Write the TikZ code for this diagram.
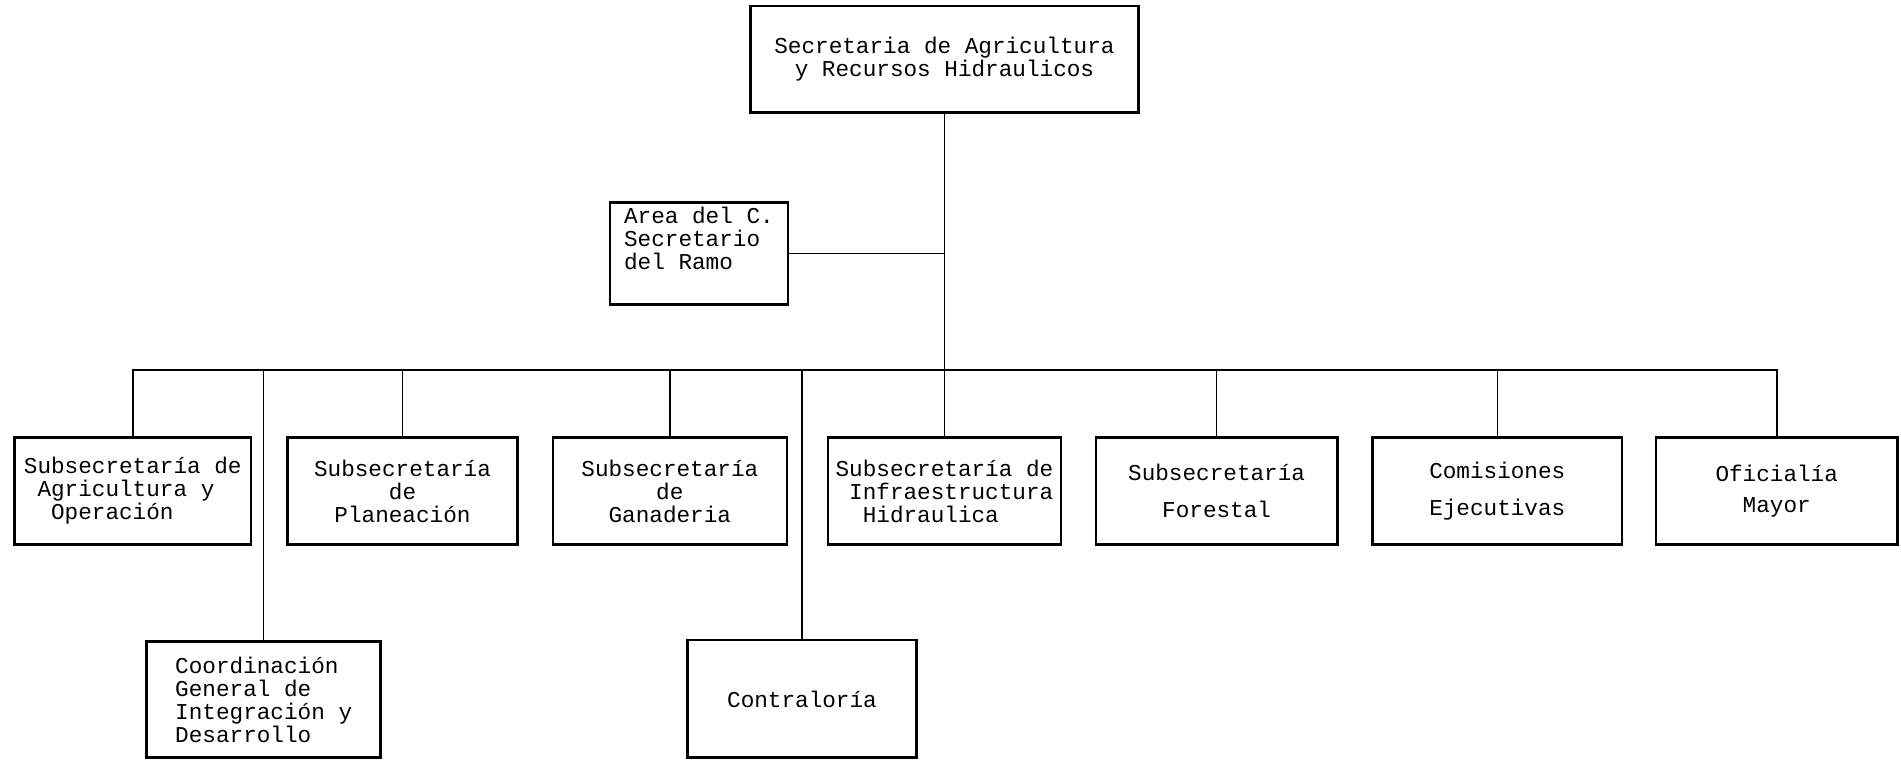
\documentclass[tikz,border=0pt]{standalone}
\usepackage{fontspec}
\setmonofont{Liberation Mono}
\usetikzlibrary{calc}

\begin{document}
\begin{tikzpicture}[x=0.025cm,y=-0.025cm,
		caja/.style={draw,line width=1.5pt,font=\ttfamily\fontsize{13.3}{13.5}\selectfont,inner sep=0pt,minimum height=2.2cm},
		linea/.style={line width=0.9pt}]
				\useasboundingbox (0,0) rectangle (1568,628);
				\clip (0,0) rectangle (1568,628);
				\node[caja,align=center,minimum width=8cm] (secretaria) at (779,49) {Secretaria de Agricultura\\y Recursos Hidraulicos};
				\node[caja,align=left,minimum width=3.675cm,minimum height=2.1cm] (area) at (576.5,209) {Area del C.\\Secretario\\del Ramo\\\strut};

				\node[caja,align=left,minimum width=4.875cm] (agricultura) at (109.5,405) {Subsecretaría de\\\hphantom{x}Agricultura y\\\hphantom{xx}Operación};
				\node[caja,align=center,minimum width=4.75cm] (planeacion) at (332,405) {Subsecretaría\\de\\Planeación};
				\node[caja,align=center,minimum width=4.825cm] (ganaderia) at (552.5,405) {Subsecretaría\\de\\Ganaderia};
				\node[caja,align=left,minimum width=4.8cm] (infra) at (779,405) {Subsecretaría de\\\hphantom{x}Infraestructura\\\hphantom{xx}Hidraulica};
				\node[caja,align=center,minimum width=4.975cm] (forestal) at (1003.5,405) {Subsecretaría\\[0.275cm]Forestal};
				\node[caja,align=center,minimum width=5.15cm] (comisiones) at (1235,405) {Comisiones\\[0.275cm]Ejecutivas};
				\node[caja,align=center,minimum width=4.975cm] (oficialia) at (1465.5,405) {Oficialía\\[0.175cm]Mayor};

				\node[caja,align=left,minimum width=4.825cm,minimum height=2.4cm] (coordinacion) at (217.5,577) {Coordinación\\General de\\Integración y\\Desarrollo};
				\node[caja,align=center,minimum width=4.725cm,minimum height=2.425cm] (contraloria) at (661.5,576.5) {Contraloría};

				\coordinate (bus) at (779,305);
				\draw[linea] (secretaria.south)--(infra.north);
				\draw[linea] (area.east)--(area.east -| secretaria.south);
				\draw[linea] (agricultura.north)--(agricultura.north |- bus)--(oficialia.north |- bus)--(oficialia.north);
				\draw[linea] (planeacion.north)--(planeacion.north |- bus);
				\draw[linea] (ganaderia.north)--(ganaderia.north |- bus);
				\draw[linea] (forestal.north)--(forestal.north |- bus);
				\draw[linea] (comisiones.north)--(comisiones.north |- bus);
				\draw[linea] (coordinacion.north)--(coordinacion.north |- bus);
				\draw[linea] (contraloria.north)--(contraloria.north |- bus);
			\end{tikzpicture}
\end{document}
